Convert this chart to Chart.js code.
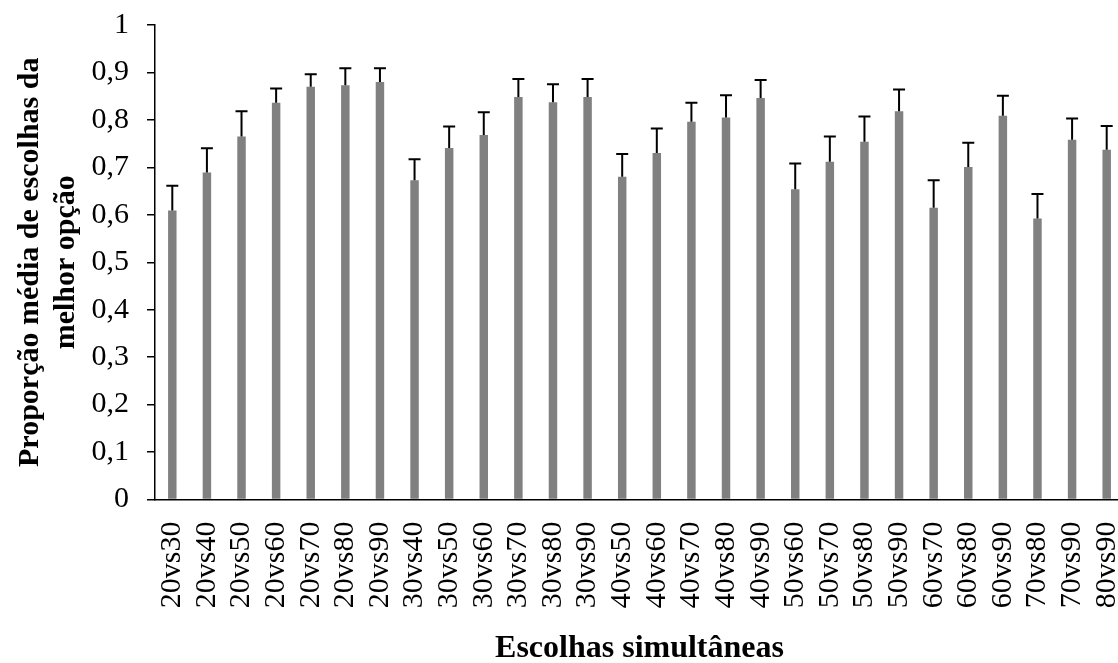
<!DOCTYPE html>
<html lang="pt">
<head>
<meta charset="utf-8">
<title>Proporção média de escolhas da melhor opção</title>
<script src="https://cdn.jsdelivr.net/npm/chart.js@4.4.1/dist/chart.umd.min.js"></script>
<style>
  html, body { margin: 0; padding: 0; background: #ffffff; overflow: hidden; }
  #wrap { width: 1124px; height: 663px; }
</style>
</head>
<body>
<div id="wrap"><canvas id="chart" width="1124" height="663"></canvas></div>
<script>
// Pares de escolhas simultâneas
const categories = [
  '20vs30', '20vs40', '20vs50', '20vs60', '20vs70', '20vs80', '20vs90',
  '30vs40', '30vs50', '30vs60', '30vs70', '30vs80', '30vs90',
  '40vs50', '40vs60', '40vs70', '40vs80', '40vs90',
  '50vs60', '50vs70', '50vs80', '50vs90',
  '60vs70', '60vs80', '60vs90',
  '70vs80', '70vs90',
  '80vs90'
];

// Proporção média de escolhas da melhor opção
const means = [
  0.609, 0.689, 0.765, 0.836, 0.870, 0.873, 0.880,
  0.673, 0.741, 0.768, 0.848, 0.837, 0.848,
  0.680, 0.730, 0.796, 0.805, 0.846,
  0.654, 0.712, 0.754, 0.818,
  0.615, 0.701, 0.809,
  0.592, 0.758,
  0.737
];

// Erro padrão (barra superior)
const errors = [
  0.052, 0.051, 0.053, 0.030, 0.026, 0.036, 0.029,
  0.044, 0.045, 0.048, 0.038, 0.038, 0.038,
  0.048, 0.052, 0.040, 0.047, 0.038,
  0.054, 0.053, 0.053, 0.046,
  0.058, 0.051, 0.042,
  0.052, 0.045,
  0.050
];

const yTicks = [0, 0.1, 0.2, 0.3, 0.4, 0.5, 0.6, 0.7, 0.8, 0.9, 1];

const FONT = "'Liberation Serif', 'Times New Roman', serif";

// Desenha as barras de erro (só para cima) a partir das escalas do gráfico
const errorBarPlugin = {
  id: 'errorBars',
  afterDatasetsDraw(chart) {
    const meta = chart.getDatasetMeta(0);
    const yScale = chart.scales.y;
    const ctx = chart.ctx;
    ctx.save();
    ctx.strokeStyle = '#000000';
    ctx.lineWidth = 2;
    meta.data.forEach((bar, i) => {
      const x = bar.x;
      const yBase = yScale.getPixelForValue(means[i]);
      const yTop = yScale.getPixelForValue(means[i] + errors[i]);
      const half = 6;
      ctx.beginPath();
      ctx.moveTo(x, yBase);
      ctx.lineTo(x, yTop);
      ctx.moveTo(x - half, yTop);
      ctx.lineTo(x + half, yTop);
      ctx.stroke();
    });
    ctx.restore();
  }
};

new Chart(document.getElementById('chart'), {
  type: 'bar',
  data: {
    labels: categories,
    datasets: [{
      data: means,
      backgroundColor: '#808080',
      borderWidth: 0,
      barPercentage: 0.245,
      categoryPercentage: 1.0
    }]
  },
  options: {
    responsive: false,
    animation: false,
    devicePixelRatio: 1,
    layout: { padding: { top: 25, right: 0, bottom: 0, left: 0 } },
    plugins: {
      legend: { display: false },
      tooltip: { enabled: false }
    },
    scales: {
      x: {
        grid: { display: false },
        border: { display: true, color: '#000000', width: 1.5 },
        ticks: {
          color: '#000000',
          font: { family: FONT, size: 30 },
          minRotation: 90,
          maxRotation: 90,
          autoSkip: false,
          padding: 14
        },
        title: {
          display: true,
          text: 'Escolhas simultâneas',
          color: '#000000',
          font: { family: FONT, size: 32, weight: 'bold', lineHeight: 0.9 },
          padding: { top: 0, bottom: 0 }
        },
        afterFit(scale) {
          scale.height = 163.5;
          scale.paddingLeft = 0;
          scale.paddingRight = 0;
        }
      },
      y: {
        min: 0,
        max: 1,
        afterBuildTicks(scale) {
          scale.ticks = yTicks.map(v => ({ value: v }));
        },
        grid: {
          display: true,
          drawOnChartArea: false,
          drawTicks: true,
          tickLength: 8,
          color: '#000000',
          lineWidth: 1.5
        },
        border: { display: true, color: '#000000', width: 1.5 },
        ticks: {
          color: '#000000',
          font: { family: FONT, size: 30 },
          padding: 18,
          callback(value) {
            return Number.isInteger(value) ? String(value) : value.toFixed(1).replace('.', ',');
          }
        },
        title: {
          display: true,
          text: ['Proporção média de escolhas da', 'melhor opção'],
          color: '#000000',
          font: { family: FONT, size: 30, weight: 'bold', lineHeight: 1.2 },
          padding: { top: 12, bottom: 0 }
        },
        afterFit(scale) {
          scale.width = 155;
          scale.paddingTop = 0;
          scale.paddingBottom = 0;
        }
      }
    }
  },
  plugins: [errorBarPlugin]
});
</script>
</body>
</html>
